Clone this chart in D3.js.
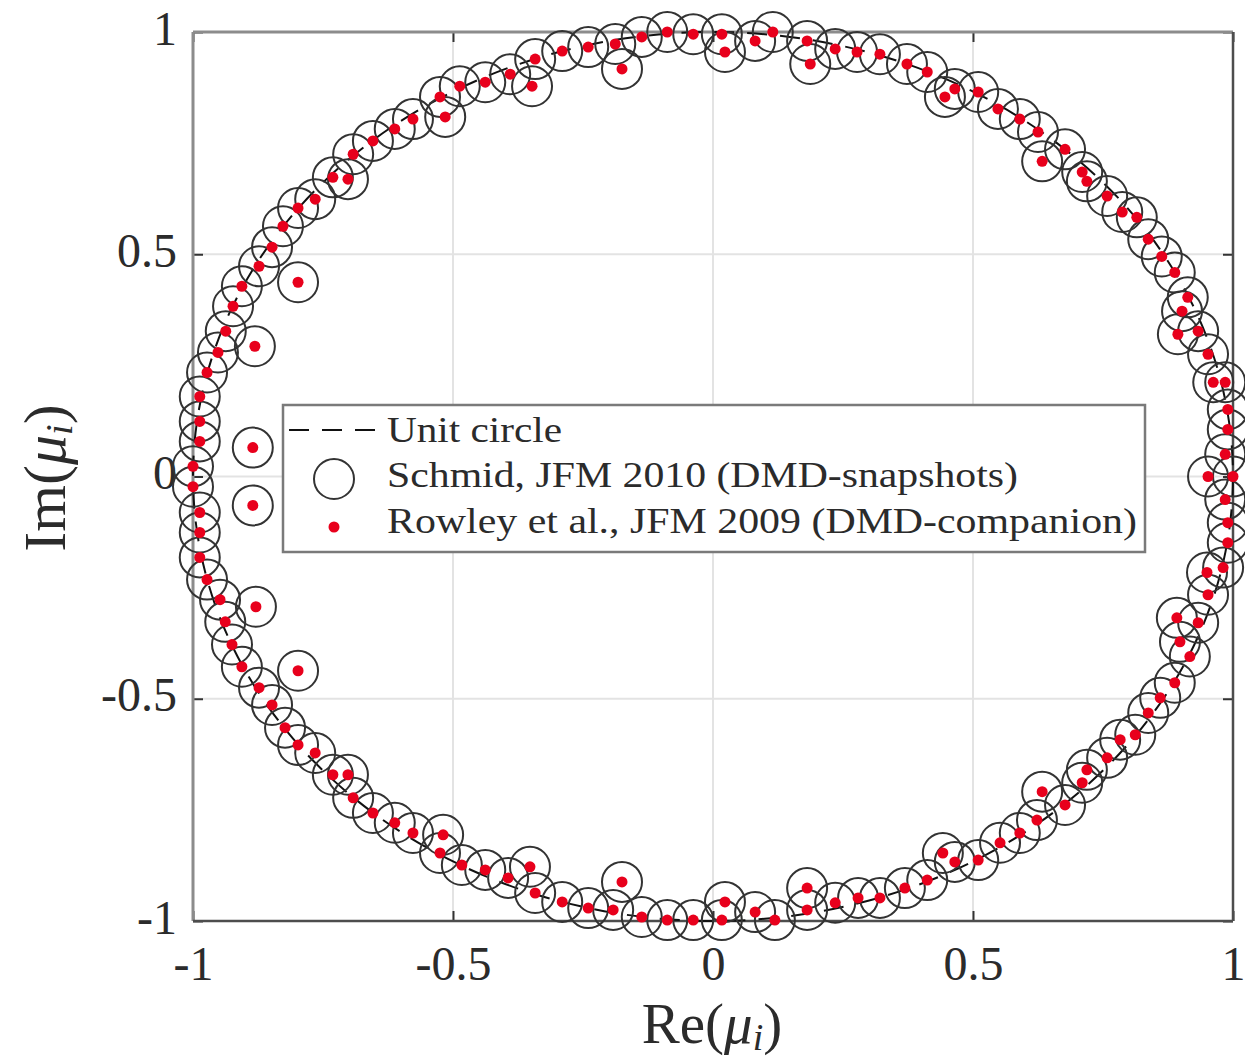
<!DOCTYPE html>
<html><head><meta charset="utf-8">
<script src="https://cdn.jsdelivr.net/npm/d3@7"></script>
<style>body{margin:0;background:#fff}svg{display:block}</style>
</head><body>
<svg id="chart" width="1245" height="1064"></svg>
<script>
// ---- data ----
const xTicks = [-1, -0.5, 0, 0.5, 1];
const xTickLabels = ["-1", "-0.5", "0", "0.5", "1"];
const yTicks = [-1, -0.5, 0, 0.5, 1];
const yTickLabels = ["-1", "-0.5", "0", "0.5", "1"];
const seriesNames = ["Unit circle", "Schmid, JFM 2010 (DMD-snapshots)", "Rowley et al., JFM 2009 (DMD-companion)"];
const unitCircleRadius = [1];

// Eigenvalues, DMD-snapshots (Schmid 2010): real parts
const schmidRe = [
 1.000, 0.952, 0.985, 0.990, 0.990, 0.985, 0.962, 0.952, 0.933, 0.894,
 0.902, 0.913, 0.888, 0.863, 0.837, 0.815, 0.787, 0.758, 0.719, 0.710,
 0.677, 0.633, 0.625, 0.590, 0.548, 0.510, 0.465, 0.446, 0.412, 0.373,
 0.321, 0.277, 0.235, 0.187, 0.181, 0.115, 0.081, 0.023, 0.017, -0.038,
 -0.088, -0.137, -0.175, -0.188, -0.240, -0.290, -0.342, -0.348, -0.390, -0.438,
 -0.487, -0.515, -0.525, -0.577, -0.612, -0.654, -0.692, -0.702, -0.731, -0.765,
 -0.798, -0.827, -0.848, -0.873, -0.798, -0.906, -0.923, -0.937, -0.881, -0.952,
 -0.973, -0.987, -0.987, -0.987, -0.885, -1.000,
 -1.000, -0.885, -0.987, -0.987, -0.987, -0.973, -0.948, -0.879, -0.938, -0.925,
 -0.906, -0.798, -0.873, -0.848, -0.823, -0.798, -0.765, -0.731, -0.702, -0.692,
 -0.654, -0.612, -0.577, -0.519, -0.525, -0.483, -0.438, -0.394, -0.352, -0.342,
 -0.290, -0.240, -0.192, -0.175, -0.137, -0.088, -0.038, 0.017, 0.023, 0.081,
 0.119, 0.181, 0.181, 0.235, 0.279, 0.321, 0.369, 0.412, 0.442, 0.465,
 0.510, 0.552, 0.590, 0.623, 0.633, 0.677, 0.710, 0.719, 0.758, 0.783,
 0.812, 0.837, 0.860, 0.888, 0.917, 0.898, 0.933, 0.892, 0.952, 0.950,
 0.981, 0.990, 0.990, 0.985
];
// imaginary parts
const schmidIm = [
 0.000, 0.000, 0.050, 0.106, 0.151, 0.212, 0.212, 0.275, 0.327, 0.320,
 0.372, 0.403, 0.459, 0.495, 0.534, 0.583, 0.595, 0.631, 0.664, 0.685,
 0.736, 0.709, 0.775, 0.804, 0.827, 0.865, 0.872, 0.854, 0.910, 0.928,
 0.950, 0.955, 0.962, 0.928, 0.980, 1.000, 0.980, 0.955, 0.995, 0.995,
 1.000, 0.989, 0.917, 0.973, 0.966, 0.957, 0.939, 0.878, 0.905, 0.887,
 0.878, 0.809, 0.854, 0.804, 0.782, 0.755, 0.725, 0.669, 0.673, 0.624,
 0.604, 0.563, 0.516, 0.473, 0.437, 0.428, 0.383, 0.327, 0.293, 0.279,
 0.234, 0.180, 0.124, 0.079, 0.065, 0.023,
 -0.023, -0.065, -0.081, -0.126, -0.182, -0.232, -0.277, -0.293, -0.327, -0.378,
 -0.428, -0.437, -0.475, -0.514, -0.565, -0.604, -0.622, -0.671, -0.671, -0.723,
 -0.757, -0.779, -0.802, -0.806, -0.847, -0.874, -0.885, -0.903, -0.878, -0.937,
 -0.957, -0.971, -0.975, -0.912, -0.991, -0.998, -0.998, -0.998, -0.957, -0.980,
 -0.998, -0.926, -0.975, -0.959, -0.948, -0.948, -0.926, -0.908, -0.847, -0.867,
 -0.863, -0.824, -0.802, -0.773, -0.709, -0.739, -0.689, -0.660, -0.633, -0.592,
 -0.581, -0.532, -0.498, -0.464, -0.405, -0.372, -0.329, -0.318, -0.266, -0.216,
 -0.205, -0.149, -0.104, -0.052
];
// Eigenvalues, DMD-companion (Rowley 2009): same spectrum
const rowleyRe = [
 1.000, 0.952, 0.985, 0.990, 0.990, 0.985, 0.962, 0.952, 0.933, 0.894,
 0.902, 0.913, 0.888, 0.863, 0.837, 0.815, 0.787, 0.758, 0.719, 0.710,
 0.677, 0.633, 0.625, 0.590, 0.548, 0.510, 0.465, 0.446, 0.412, 0.373,
 0.321, 0.277, 0.235, 0.187, 0.181, 0.115, 0.081, 0.023, 0.017, -0.038,
 -0.088, -0.137, -0.175, -0.188, -0.240, -0.290, -0.342, -0.348, -0.390, -0.438,
 -0.487, -0.515, -0.525, -0.577, -0.612, -0.654, -0.692, -0.702, -0.731, -0.765,
 -0.798, -0.827, -0.848, -0.873, -0.798, -0.906, -0.923, -0.937, -0.881, -0.952,
 -0.973, -0.987, -0.987, -0.987, -0.885, -1.000,
 -1.000, -0.885, -0.987, -0.987, -0.987, -0.973, -0.948, -0.879, -0.938, -0.925,
 -0.906, -0.798, -0.873, -0.848, -0.823, -0.798, -0.765, -0.731, -0.702, -0.692,
 -0.654, -0.612, -0.577, -0.519, -0.525, -0.483, -0.438, -0.394, -0.352, -0.342,
 -0.290, -0.240, -0.192, -0.175, -0.137, -0.088, -0.038, 0.017, 0.023, 0.081,
 0.119, 0.181, 0.181, 0.235, 0.279, 0.321, 0.369, 0.412, 0.442, 0.465,
 0.510, 0.552, 0.590, 0.623, 0.633, 0.677, 0.710, 0.719, 0.758, 0.783,
 0.812, 0.837, 0.860, 0.888, 0.917, 0.898, 0.933, 0.892, 0.952, 0.950,
 0.981, 0.990, 0.990, 0.985
];
const rowleyIm = [
 0.000, 0.000, 0.050, 0.106, 0.151, 0.212, 0.212, 0.275, 0.327, 0.320,
 0.372, 0.403, 0.459, 0.495, 0.534, 0.583, 0.595, 0.631, 0.664, 0.685,
 0.736, 0.709, 0.775, 0.804, 0.827, 0.865, 0.872, 0.854, 0.910, 0.928,
 0.950, 0.955, 0.962, 0.928, 0.980, 1.000, 0.980, 0.955, 0.995, 0.995,
 1.000, 0.989, 0.917, 0.973, 0.966, 0.957, 0.939, 0.878, 0.905, 0.887,
 0.878, 0.809, 0.854, 0.804, 0.782, 0.755, 0.725, 0.669, 0.673, 0.624,
 0.604, 0.563, 0.516, 0.473, 0.437, 0.428, 0.383, 0.327, 0.293, 0.279,
 0.234, 0.180, 0.124, 0.079, 0.065, 0.023,
 -0.023, -0.065, -0.081, -0.126, -0.182, -0.232, -0.277, -0.293, -0.327, -0.378,
 -0.428, -0.437, -0.475, -0.514, -0.565, -0.604, -0.622, -0.671, -0.671, -0.723,
 -0.757, -0.779, -0.802, -0.806, -0.847, -0.874, -0.885, -0.903, -0.878, -0.937,
 -0.957, -0.971, -0.975, -0.912, -0.991, -0.998, -0.998, -0.998, -0.957, -0.980,
 -0.998, -0.926, -0.975, -0.959, -0.948, -0.948, -0.926, -0.908, -0.847, -0.867,
 -0.863, -0.824, -0.802, -0.773, -0.709, -0.739, -0.689, -0.660, -0.633, -0.592,
 -0.581, -0.532, -0.498, -0.464, -0.405, -0.372, -0.329, -0.318, -0.266, -0.216,
 -0.205, -0.149, -0.104, -0.052
];

// ---- drawing ----
const L = 193, R = 1233, T = 32, B = 921;
const svg = d3.select("#chart");
const x = d3.scaleLinear().domain([-1, 1]).range([L, R]);
const y = d3.scaleLinear().domain([-1, 1]).range([B, T]);
const FONT = "'Liberation Serif','DejaVu Serif',serif";
const textCol = "#2b2b2b";

// grid
const grid = svg.append("g");
grid.selectAll("line.gx").data(xTicks.slice(1, -1)).join("line")
  .attr("x1", d => x(d)).attr("x2", d => x(d)).attr("y1", T).attr("y2", B)
  .attr("stroke", "#e3e3e3").attr("stroke-width", 2);
grid.selectAll("line.gy").data(yTicks.slice(1, -1)).join("line")
  .attr("y1", d => y(d)).attr("y2", d => y(d)).attr("x1", L).attr("x2", R)
  .attr("stroke", "#e3e3e3").attr("stroke-width", 2);

// axes (inward ticks)
function styleAxis(g) {
  g.select(".domain").remove();
  g.selectAll(".tick line").attr("stroke", "#333").attr("stroke-width", 2);
  g.selectAll(".tick text").attr("fill", textCol).attr("font-family", FONT).attr("font-size", 48);
}
const xAxis = svg.append("g").attr("transform", `translate(0,${B})`)
  .call(d3.axisBottom(x).tickValues(xTicks).tickSize(-10).tickFormat((d, i) => xTickLabels[i]));
styleAxis(xAxis);
xAxis.selectAll(".tick text").attr("y", 59).attr("dy", 0);

const yAxis = svg.append("g").attr("transform", `translate(${L},0)`)
  .call(d3.axisLeft(y).tickValues(yTicks).tickSize(-10).tickFormat((d, i) => yTickLabels[i]));
styleAxis(yAxis);
yAxis.selectAll(".tick text").attr("x", -16).attr("dy", 0).attr("y", 12);

const xTop = svg.append("g").attr("transform", `translate(0,${T})`)
  .call(d3.axisTop(x).tickValues(xTicks).tickSize(-10).tickFormat(""));
styleAxis(xTop);
const yRight = svg.append("g").attr("transform", `translate(${R},0)`)
  .call(d3.axisRight(y).tickValues(yTicks).tickSize(-10).tickFormat(""));
styleAxis(yRight);

// frame
const frame = svg.append("g").attr("fill", "none");
frame.append("line").attr("x1", L).attr("x2", L).attr("y1", T).attr("y2", B).attr("stroke", "#8c8c8c").attr("stroke-width", 3);
frame.append("line").attr("x1", L).attr("x2", R).attr("y1", T).attr("y2", T).attr("stroke", "#8c8c8c").attr("stroke-width", 3);
frame.append("line").attr("x1", L).attr("x2", R).attr("y1", B).attr("y2", B).attr("stroke", "#4d4d4d").attr("stroke-width", 2.5);
frame.append("line").attr("x1", R).attr("x2", R).attr("y1", T).attr("y2", B).attr("stroke", "#4d4d4d").attr("stroke-width", 2.5);

// unit circle (dashed)
svg.append("g").selectAll("ellipse").data(unitCircleRadius).join("ellipse")
  .attr("cx", x(0)).attr("cy", y(0))
  .attr("rx", d => x(d) - x(0)).attr("ry", d => y(0) - y(d))
  .attr("fill", "none").attr("stroke", "#111").attr("stroke-width", 2)
  .attr("stroke-dasharray", "20,13");

// Schmid (open circles)
const schmid = schmidRe.map((re, i) => ({ re, im: schmidIm[i] }));
svg.append("g").selectAll("circle").data(schmid).join("circle")
  .attr("cx", d => x(d.re)).attr("cy", d => y(d.im)).attr("r", 20)
  .attr("fill", "none").attr("stroke", "#333").attr("stroke-width", 2);

// Rowley (red dots)
const rowley = rowleyRe.map((re, i) => ({ re, im: rowleyIm[i] }));
svg.append("g").selectAll("circle").data(rowley).join("circle")
  .attr("cx", d => x(d.re)).attr("cy", d => y(d.im)).attr("r", 5.5)
  .attr("fill", "#e8001c");

// legend
const lg = svg.append("g");
lg.append("rect").attr("x", 283).attr("y", 405).attr("width", 862).attr("height", 147)
  .attr("fill", "#fff").attr("stroke", "#7a7a7a").attr("stroke-width", 2.5);
lg.append("line").attr("x1", 289).attr("x2", 382).attr("y1", 430).attr("y2", 430)
  .attr("stroke", "#111").attr("stroke-width", 2).attr("stroke-dasharray", "20,13");
lg.append("circle").attr("cx", 334).attr("cy", 479).attr("r", 20)
  .attr("fill", "none").attr("stroke", "#333").attr("stroke-width", 2);
lg.append("circle").attr("cx", 334).attr("cy", 527).attr("r", 5.5).attr("fill", "#e8001c");
const legBase = [442, 487, 533];
const legLen = [175, 631, 750];
lg.selectAll("text").data(seriesNames).join("text")
  .attr("x", 387).attr("y", (d, i) => legBase[i])
  .attr("font-family", FONT).attr("font-size", 36).attr("fill", textCol)
  .attr("textLength", (d, i) => legLen[i]).attr("lengthAdjust", "spacingAndGlyphs")
  .text(d => d);

// axis titles
function mu(t, base) {
  t.append("tspan").text(base + "(");
  t.append("tspan").attr("font-style", "italic").text("μ");
  t.append("tspan").attr("font-style", "italic").attr("font-size", 38).attr("dy", 7).text("i");
  t.append("tspan").attr("dy", -7).text(")");
}
const xt = svg.append("text").attr("x", 712).attr("y", 1043).attr("text-anchor", "middle")
  .attr("font-family", FONT).attr("font-size", 57).attr("fill", textCol);
mu(xt, "Re");
const yt = svg.append("text").attr("transform", "translate(65,478) rotate(-90)").attr("text-anchor", "middle")
  .attr("font-family", FONT).attr("font-size", 60).attr("fill", textCol);
mu(yt, "Im");
</script>
</body></html>
